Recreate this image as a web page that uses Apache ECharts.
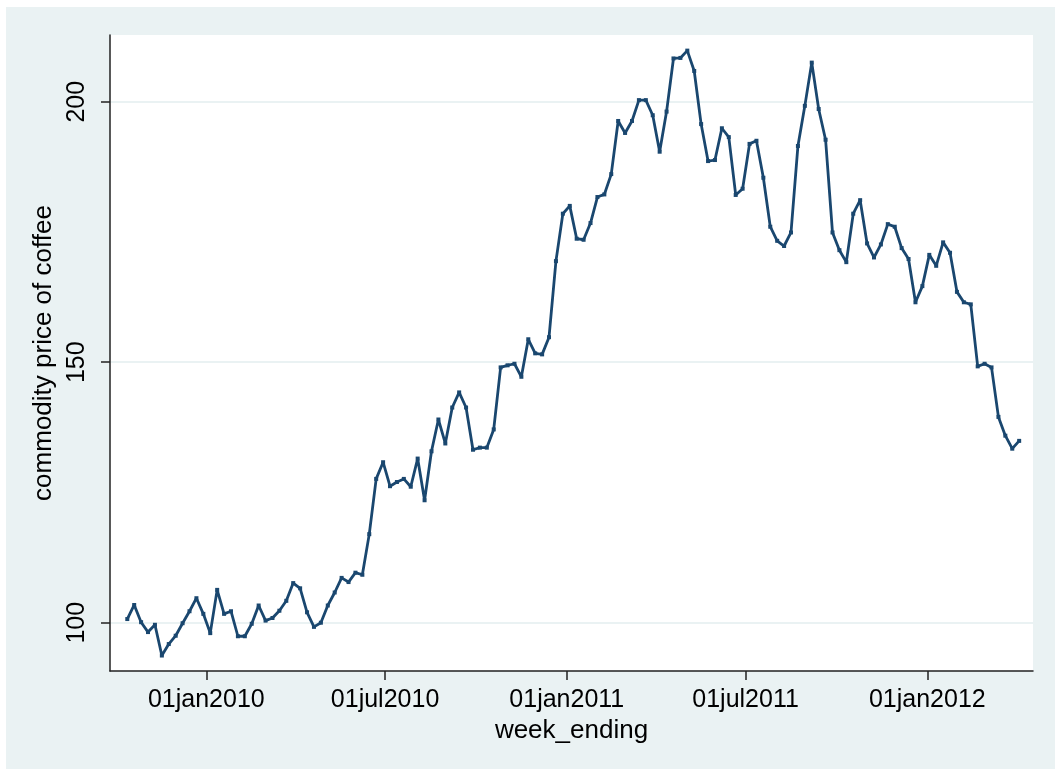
<!DOCTYPE html>
<html>
<head>
<meta charset="utf-8">
<script src="https://cdn.jsdelivr.net/npm/echarts@6/dist/echarts.min.js"></script>
<style>
  html, body { margin: 0; padding: 0; background: #ffffff; }
  #wrap { position: relative; width: 1055px; height: 769px; background: #ffffff; }
  #outer { position: absolute; left: 6px; top: 7px; right: 0; bottom: 0; background: #eaf2f3; }
  #chart { position: absolute; left: 0; top: 0; width: 1055px; height: 769px; }
</style>
</head>
<body>
<div id="wrap"><div id="outer"></div><div id="chart"></div></div>
<script>
// First week_ending date; observations are weekly
const firstWeek = '2009-10-13';
// commodity price of coffee
const coffeePrice = [
  100.7, 103.4, 100.1, 98.2, 99.6, 93.7, 95.9, 97.5, 99.9, 102.2,
  104.7, 101.7, 98.0, 106.3, 101.7, 102.2, 97.4, 97.4, 99.8, 103.3,
  100.4, 100.9, 102.3, 104.2, 107.6, 106.6, 102.0, 99.2, 100.0, 103.3,
  105.8, 108.6, 107.8, 109.6, 109.2, 117.0, 127.6, 130.8, 126.2, 127.0,
  127.6, 126.1, 131.5, 123.5, 132.9, 139.0, 134.4, 141.3, 144.2, 141.3,
  133.2, 133.6, 133.6, 137.1, 149.0, 149.4, 149.7, 147.2, 154.4, 151.7,
  151.5, 154.8, 169.4, 178.5, 180.0, 173.7, 173.5, 176.7, 181.7, 182.2,
  186.1, 196.3, 194.0, 196.3, 200.3, 200.3, 197.4, 190.4, 198.1, 208.3,
  208.4, 209.8, 205.9, 195.7, 188.6, 188.8, 194.9, 193.2, 182.1, 183.3,
  191.9, 192.5, 185.4, 176.0, 173.3, 172.3, 174.9, 191.5, 199.2, 207.5,
  198.6, 192.7, 174.9, 171.5, 169.2, 178.5, 181.1, 172.8, 170.1, 172.6,
  176.5, 176.0, 171.9, 169.8, 161.5, 164.6, 170.6, 168.5, 173.0, 171.0,
  163.5, 161.5, 161.1, 149.2, 149.7, 149.0, 139.5, 135.9, 133.4, 134.9
];
const xTickDates = ['2010-01-01', '2010-07-01', '2011-01-01', '2011-07-01', '2012-01-01'];
const xTickLabels = ['01jan2010', '01jul2010', '01jan2011', '01jul2011', '01jan2012'];
const yTicks = [100, 150, 200];
const xRangeDates = ['2009-09-25', '2012-04-17'];
const yRange = [90.73, 212.8];

const DAY = 86400000;
const origin = Date.UTC(2010, 0, 1);
function dayNum(s) {
  const p = s.split('-').map(Number);
  return Math.round((Date.UTC(p[0], p[1] - 1, p[2]) - origin) / DAY);
}
const startDay = dayNum(firstWeek);
const seriesData = coffeePrice.map((v, i) => [startDay + 7 * i, v]);
const xTickDays = xTickDates.map(dayNum);
const labelMap = {};
xTickDays.forEach((d, i) => { labelMap[d] = xTickLabels[i]; });

const FONT = 'Liberation Sans, Arial, Helvetica, sans-serif';
const chart = echarts.init(document.getElementById('chart'), null, { renderer: 'canvas' });
chart.setOption({
  backgroundColor: 'transparent',
  animation: false,
  grid: {
    left: 110, right: 22, top: 35, bottom: 98,
    show: true, backgroundColor: '#ffffff', borderWidth: 0
  },
  xAxis: {
    type: 'value',
    min: dayNum(xRangeDates[0]) + 0.5,
    max: dayNum(xRangeDates[1]),
    name: 'week_ending',
    nameLocation: 'middle',
    nameGap: 46,
    nameTextStyle: { fontFamily: FONT, fontSize: 26, color: '#000' },
    axisLine: { show: true, onZero: false, lineStyle: { color: '#222', width: 1.5 } },
    axisTick: { show: true, length: 9, lineStyle: { color: '#222', width: 1.5 }, customValues: xTickDays },
    axisLabel: {
      fontFamily: FONT, fontSize: 25, color: '#000', margin: 17,
      customValues: xTickDays,
      formatter: v => labelMap[Math.round(v)] || ''
    },
    splitLine: { show: false }
  },
  yAxis: {
    type: 'value',
    min: yRange[0],
    max: yRange[1],
    name: 'commodity price of coffee',
    nameLocation: 'middle',
    nameGap: 48,
    nameTextStyle: { fontFamily: FONT, fontSize: 26, color: '#000' },
    axisLine: { show: true, onZero: false, lineStyle: { color: '#222', width: 1.5 } },
    axisTick: { show: true, length: 9, lineStyle: { color: '#222', width: 1.5 }, customValues: yTicks },
    axisLabel: {
      fontFamily: FONT, fontSize: 25, color: '#000', margin: 20, rotate: 90,
      customValues: yTicks
    },
    splitLine: { show: true, lineStyle: { color: '#eaf2f3', width: 2 } }
  },
  series: [{
    type: 'line',
    data: seriesData,
    symbol: 'rect',
    symbolSize: 4,
    showAllSymbol: true,
    itemStyle: { color: '#1a476f' },
    lineStyle: { color: '#1a476f', width: 2.8 },
    clip: true
  }]
});
</script>
</body>
</html>
